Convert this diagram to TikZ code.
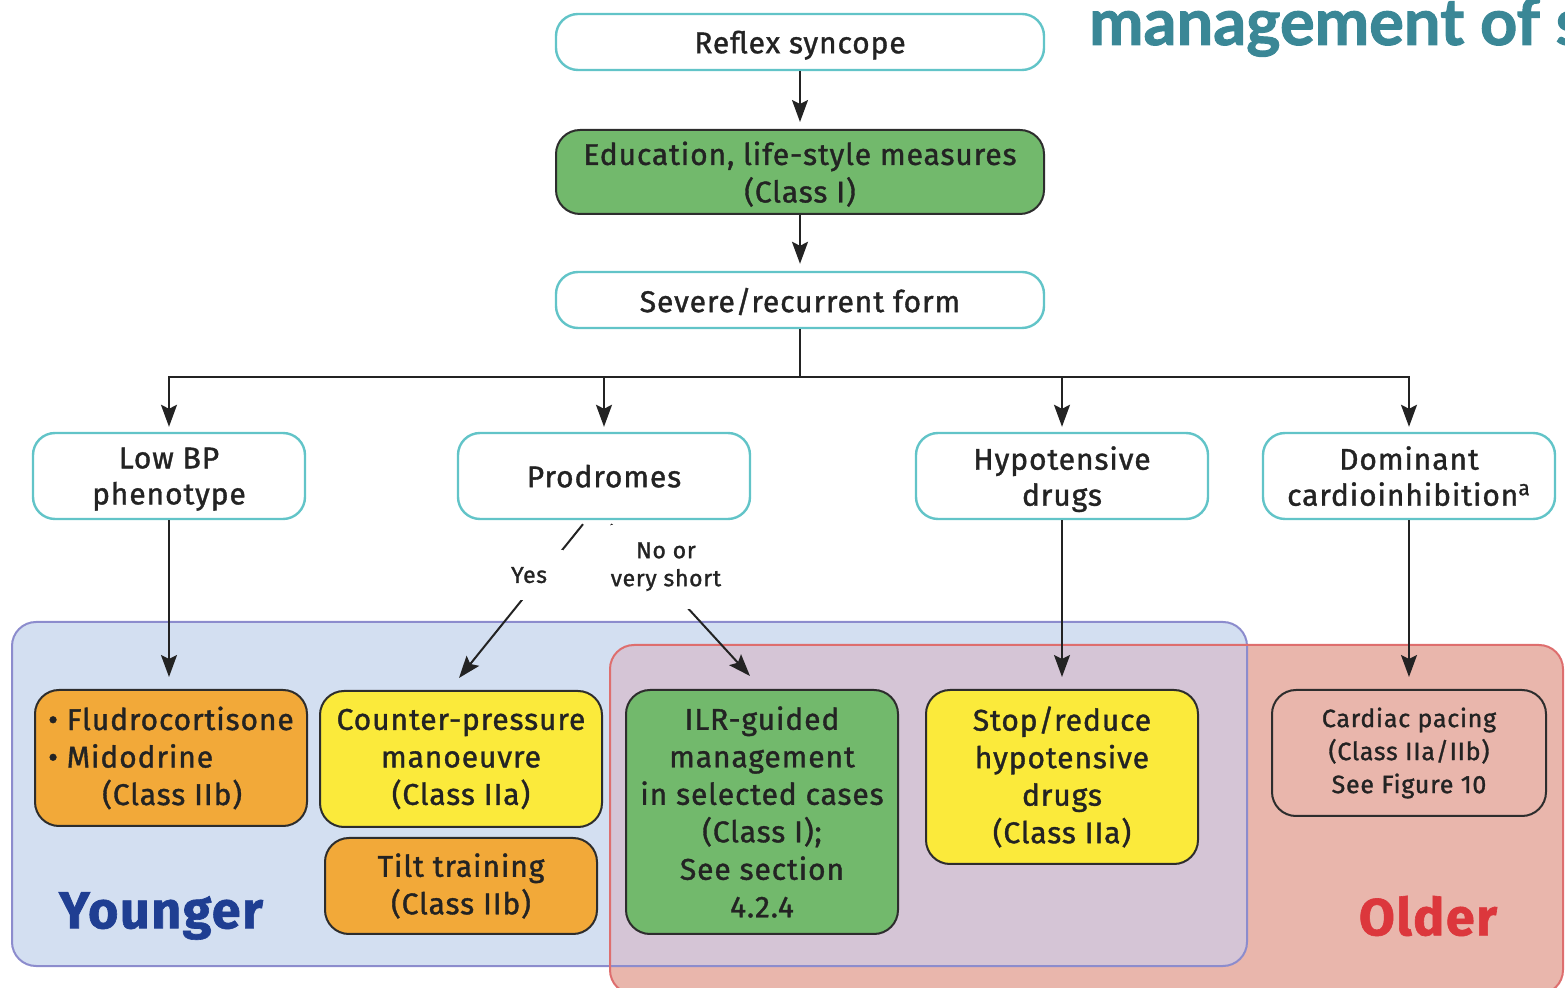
\documentclass[tikz,border=0pt]{standalone}
\usepackage{fontspec}
\setmainfont{Fira Sans}[FakeBold=1.2, LetterSpace=3]
\newfontfamily\headfont{Lato}[FakeBold=1.5]
\usepackage{tikz}
\usetikzlibrary{arrows.meta,positioning,shapes,calc}

\definecolor{ink}{RGB}{35,35,35}
\definecolor{boxteal}{RGB}{98,196,200}
\definecolor{boxedge}{RGB}{45,45,45}
\definecolor{classone}{RGB}{114,185,108}
\definecolor{classtwoa}{RGB}{251,234,59}
\definecolor{classtwob}{RGB}{242,169,57}
\definecolor{youngfill}{RGB}{211,223,241}
\definecolor{youngline}{RGB}{140,140,205}
\definecolor{oldfill}{RGB}{233,182,172}
\definecolor{oldline}{RGB}{222,110,110}
\definecolor{bothfill}{RGB}{213,197,214}
\definecolor{youngtext}{RGB}{31,62,146}
\definecolor{oldtext}{RGB}{220,55,60}
\definecolor{titleteal}{RGB}{58,135,150}

\tikzset{
  softbox/.style = {draw=boxteal, line width=1.2pt, fill=white, rounded corners=11pt,
    align=center, inner sep=2pt, text depth=0pt, text=ink, font=\fontsize{15}{18}\selectfont},
  treatbox/.style = {draw=boxedge, line width=1pt, rounded corners=12pt,
    align=center, inner sep=2pt, text=ink, font=\fontsize{15}{18.75}\selectfont},
  pathlabel/.style = {fill=white, inner sep=0pt, align=center, text=ink,
    font=\fontsize{11.5}{14}\selectfont},
  agelabel/.style = {font=\bfseries\fontsize{26}{28}\selectfont},
  link/.style = {line width=1pt, draw=ink},
  flow/.style = {link, -{Stealth[length=11pt, width=8pt, inset=2pt]}}
}

\begin{document}
\begin{tikzpicture}[x = .5pt, y = -.5pt]
\useasboundingbox (0,0) rectangle (1565,988);

% age groups
\fill[youngfill, rounded corners=12pt] (12,622) rectangle (1247,966);
\fill[oldfill, rounded corners=12pt] (610,645) rectangle (1563,994);
\begin{scope}
\clip[rounded corners=12pt] (12,622) rectangle (1247,966);
\fill[bothfill, rounded corners=12pt] (610,645) rectangle (1563,994);
\end{scope}
\draw[youngline, line width=1pt, rounded corners=12pt] (12,622) rectangle (1247,966);
\draw[oldline, line width=1pt, rounded corners=12pt] (610,645) rectangle (1563,994);

\node[agelabel, text=youngtext] (young) at (161,916) {Younger};
\node[agelabel, text=oldtext] (old) at (1428,916) {Older};

\node[anchor=base west, text=titleteal, font=\headfont\bfseries\fontsize{32.5}{33}\selectfont] (title) at (1082,45) {management of s};

% top of the tree
\node[softbox, minimum width=244pt, minimum height=28pt] (reflex) at (800,42) {Reflex syncope};
\node[treatbox, fill=classone, minimum width=244pt, minimum height=42pt, text depth=0pt] (edu) at (800,172) {Education, life-style measures\\(Class I)};
\node[softbox, minimum width=244pt, minimum height=28pt] (severe) at (800,300) {Severe/recurrent form};

\node[softbox, minimum width=136pt, minimum height=43pt] (lowbp) at (169,476) {Low BP\\phenotype};
\node[softbox, minimum width=146pt, minimum height=43pt] (prod) at (604,476) {Prodromes};
\node[softbox, minimum width=146pt, minimum height=43pt] (hypo) at (1062,476) {Hypotensive\\drugs};
\node[softbox, minimum width=146pt, minimum height=43pt] (domin) at (1409,476) {Dominant\\cardioinhibition\textsuperscript{a}};

% treatments
\node[treatbox, fill=classtwob, minimum width=136pt, minimum height=68pt, align=left] (fludro) at (171,758)
  {\textbullet\ Fludrocortisone\\\textbullet\ Midodrine\\\hspace*{27pt}(Class IIb)};
\node[treatbox, fill=classtwoa, minimum width=141pt, minimum height=68pt] (counter) at (461,759) {Counter-pressure\\manoeuvre\\(Class IIa)};
\node[treatbox, fill=classtwob, minimum width=136pt, minimum height=48pt] (tilt) at (461,886) {Tilt training\\(Class IIb)};
\node[treatbox, fill=classone, minimum width=136pt, minimum height=122pt] (ilr) at (762,812)
  {ILR-guided\\management\\in selected cases\\(Class I);\\See section\\4.2.4};
\node[treatbox, fill=classtwoa, minimum width=136pt, minimum height=87pt] (stop) at (1062,777) {Stop/reduce\\hypotensive\\drugs\\(Class IIa)};
\node[treatbox, minimum width=137pt, minimum height=63pt, font=\fontsize{12.5}{16.5}\selectfont] (pacing) at (1409,753)
  {Cardiac pacing\\(Class IIa/IIb)\\See Figure 10};

% connectors
\coordinate (split) at (800,377);
\draw[flow, shorten >=3.5pt] (reflex) -- (edu);
\draw[flow, shorten >=3.5pt] (edu) -- (severe);
\draw[link] (severe) -- (split);
\draw[flow, shorten >=2.5pt] (split) -| (lowbp);
\draw[flow, shorten >=2.5pt] (split) -| (prod);
\draw[flow, shorten >=2.5pt] (split) -| (hypo);
\draw[flow, shorten >=2.5pt] (split) -| (domin);

\draw[flow, shorten >=6pt] (lowbp.south) -- (lowbp.south |- fludro.north);
\draw[flow, shorten >=6pt] (hypo) -- (stop);
\draw[flow, shorten >=6pt] (domin) -- (pacing);

\draw[flow] ([xshift=-10.5pt, yshift=-2pt]prod.south) --
  node[pathlabel, pos=.33, xshift=-6.5pt, minimum width=34pt, minimum height=25pt, text depth=0pt] (yes) {Yes}
  ([xshift=-1pt, yshift=6pt]counter.north);
\draw[flow] ([xshift=3.5pt, yshift=-2pt]prod.south) --
  node[pathlabel, pos=.28, xshift=8pt, minimum height=42pt] (no) {No or\\very short}
  ([xshift=-6pt, yshift=6.5pt]ilr.north);

\end{tikzpicture}
\end{document}
